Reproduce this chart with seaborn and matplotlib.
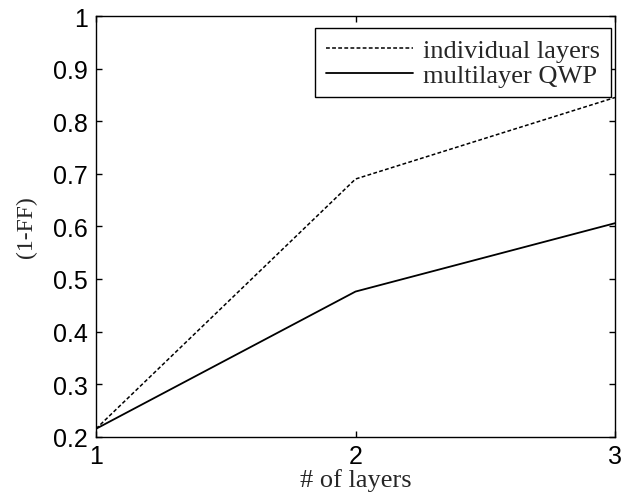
import matplotlib
matplotlib.use("Agg")
import matplotlib.pyplot as plt
import seaborn as sns
import pandas as pd

layers = [1, 2, 3]
individual = [0.215, 0.690, 0.845]
multilayer = [0.215, 0.476, 0.606]
series_names = ["individual layers", "multilayer QWP"]
xticks = [1, 2, 3]
yticks = [0.2, 0.3, 0.4, 0.5, 0.6, 0.7, 0.8, 0.9, 1.0]
ytick_labels = ["0.2", "0.3", "0.4", "0.5", "0.6", "0.7", "0.8", "0.9", "1"]

sns.set_style("ticks")
plt.rcParams['font.family'] = ['Liberation Sans', 'DejaVu Sans']

df = pd.DataFrame({
    "layers": layers * 2,
    "value": individual + multilayer,
    "series": [series_names[0]] * len(layers) + [series_names[1]] * len(layers),
})

W, H = 621, 502
L, R, T, B = 96, 615, 17, 437.7
fig = plt.figure(figsize=(W / 100, H / 100), dpi=100)
ax = fig.add_axes([L / W, 1 - B / H, (R - L) / W, (B - T) / H])

sns.lineplot(data=df[df.series == series_names[0]], x="layers", y="value", ax=ax,
             color="black", lw=1.1, label=series_names[0],
             linestyle=(0, (2.5, 1.5)))
sns.lineplot(data=df[df.series == series_names[1]], x="layers", y="value", ax=ax,
             color="black", lw=1.3, label=series_names[1])

ax.set_xlim(1, 3)
ax.set_ylim(0.2, 1.0)
ax.set_xticks(xticks)
ax.set_xticklabels([str(t) for t in xticks])
ax.set_yticks(yticks)
ax.set_yticklabels(ytick_labels)
ax.tick_params(direction="in", length=4, width=1, top=True, right=True,
               labelsize=18, colors="black")
ax.tick_params(axis="x", pad=5)
ax.tick_params(axis="y", pad=6)
for s in ax.spines.values():
    s.set_visible(True)
    s.set_color("black")
    s.set_linewidth(1.0)

ax.set_xlabel("# of layers", family="Liberation Serif", fontsize=19)
ax.set_ylabel("(1-FF)", family="Liberation Serif", fontsize=17)
ax.xaxis.set_label_coords(0.5, (B - 469) / (B - T))
ax.yaxis.set_label_coords((37 - L) / (R - L), 0.5)

leg = ax.legend(loc="upper right",
                bbox_to_anchor=((611 - L) / (R - L), (B - 29) / (B - T)),
                prop={"family": "Liberation Serif", "size": 19},
                frameon=True, fancybox=False, framealpha=1, edgecolor="black",
                borderaxespad=0.0, handlelength=3.3, handletextpad=0.4,
                borderpad=0.4, labelspacing=0.05)
leg.get_frame().set_linewidth(1.0)

fig.savefig("out.png", dpi=100)
